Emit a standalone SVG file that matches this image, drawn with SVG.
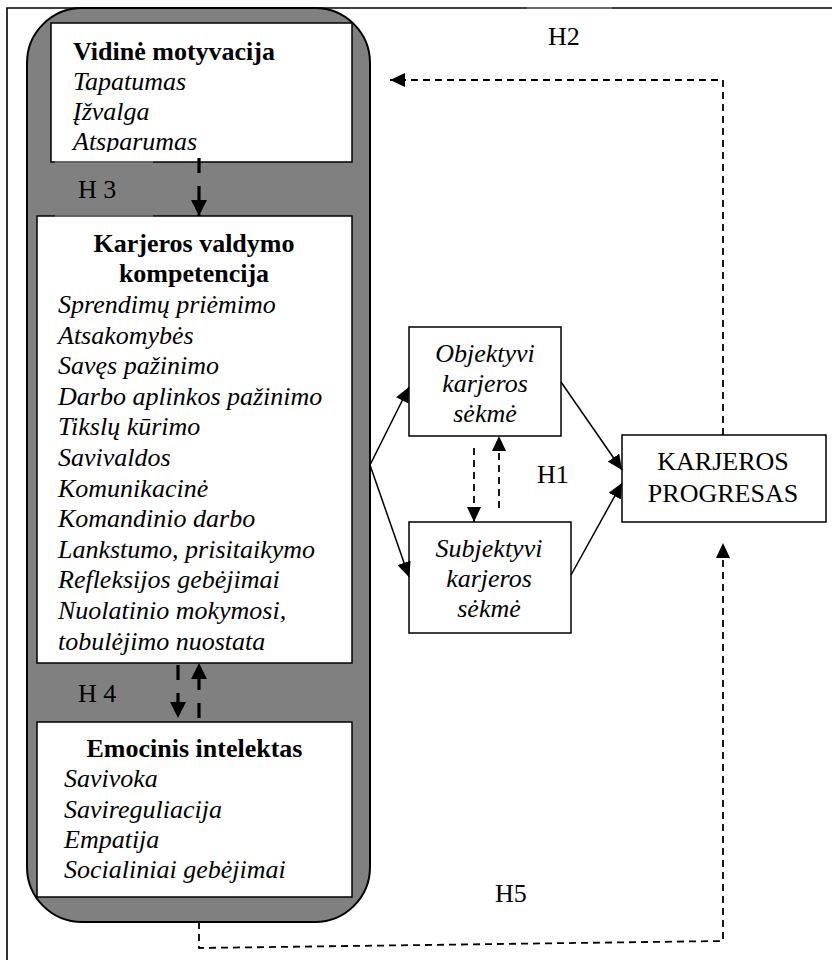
<svg xmlns="http://www.w3.org/2000/svg" width="832" height="960" viewBox="0 0 832 960">
<style>
text{font-family:"Liberation Serif","Times New Roman",serif;font-size:26px;fill:#000}
.b{font-weight:bold}
.i{font-style:italic}
.c{text-anchor:middle}
.box{fill:#fff;stroke:#000;stroke-width:1.5}
.solid{fill:none;stroke:#000;stroke-width:1.5}
.thin{fill:none;stroke:#000;stroke-width:1.8;stroke-dasharray:7 5}
.thick{fill:none;stroke:#000;stroke-width:3.2;stroke-dasharray:15 13}
.art{stroke:#777;stroke-width:1.6}
</style>
<defs>
<marker id="ah" markerUnits="userSpaceOnUse" markerWidth="16" markerHeight="14" refX="15" refY="7" orient="auto">
<path d="M0,0 L15,7 L0,14 Z" fill="#000"/>
</marker>
<marker id="ahb" markerUnits="userSpaceOnUse" markerWidth="17" markerHeight="16" refX="16" refY="8" orient="auto">
<path d="M0,0 L16,8 L0,16 Z" fill="#000"/>
</marker>
<clipPath id="clip1"><rect x="51" y="23" width="301" height="129"/></clipPath>
</defs>
<rect width="832" height="960" fill="#fff"/>
<g id="frame">
<path d="M7,960 L7,8 L832,8" fill="none" stroke="#000" stroke-width="1.6"/>
<line x1="527" y1="8" x2="612" y2="8" class="art"/>
</g>
<g id="container">
<rect x="27" y="8" width="343" height="914" rx="55" ry="55" fill="#808080" stroke="#000" stroke-width="2"/>
</g>
<g id="vidine">
<rect x="51" y="23" width="301" height="139" class="box"/>
<line x1="55" y1="162" x2="153" y2="162" class="art"/>
<g clip-path="url(#clip1)">
<text x="73" y="60" class="b">Vidinė motyvacija</text>
<text x="73" y="90" class="i">Tapatumas</text>
<text x="73" y="120" class="i">Įžvalga</text>
<text x="73" y="150" class="i">Atsparumas</text>
</g>
</g>
<g id="karjeros-valdymo">
<rect x="37" y="216" width="315" height="447" class="box"/>
<line x1="55" y1="216" x2="153" y2="216" class="art"/>
<text x="194" y="252" class="b c">Karjeros valdymo</text>
<text x="194" y="282" class="b c">kompetencija</text>
<text x="58" y="313" class="i">Sprendimų priėmimo</text>
<text x="58" y="343.6" class="i">Atsakomybės</text>
<text x="58" y="374.2" class="i">Savęs pažinimo</text>
<text x="58" y="404.8" class="i">Darbo aplinkos pažinimo</text>
<text x="58" y="435.4" class="i">Tikslų kūrimo</text>
<text x="58" y="466" class="i">Savivaldos</text>
<text x="58" y="496.6" class="i">Komunikacinė</text>
<text x="58" y="527.2" class="i">Komandinio darbo</text>
<text x="58" y="557.8" class="i">Lankstumo, prisitaikymo</text>
<text x="58" y="588.4" class="i">Refleksijos gebėjimai</text>
<text x="58" y="619" class="i">Nuolatinio mokymosi,</text>
<text x="58" y="649.6" class="i">tobulėjimo nuostata</text>
</g>
<g id="emocinis">
<rect x="37" y="722" width="315" height="175" class="box"/>
<text x="194.5" y="757" class="b c">Emocinis intelektas</text>
<text x="64" y="787" class="i">Savivoka</text>
<text x="64" y="817.5" class="i">Savireguliacija</text>
<text x="64" y="848" class="i">Empatija</text>
<text x="64" y="878" class="i">Socialiniai gebėjimai</text>
</g>
<g id="objektyvi">
<rect x="409" y="327" width="152" height="109" class="box"/>
<text x="485" y="362" class="i c">Objektyvi</text>
<text x="485" y="392" class="i c">karjeros</text>
<text x="485" y="422" class="i c">sėkmė</text>
</g>
<g id="subjektyvi">
<rect x="409" y="522" width="162" height="111" class="box"/>
<text x="489" y="557" class="i c">Subjektyvi</text>
<text x="489" y="587" class="i c">karjeros</text>
<text x="489" y="617" class="i c">sėkmė</text>
</g>
<g id="progresas">
<rect x="622" y="435" width="204" height="87" class="box"/>
<text x="723" y="470" class="c">KARJEROS</text>
<text x="723" y="502" class="c">PROGRESAS</text>
</g>
<g id="connectors">
<line x1="370" y1="465" x2="409" y2="387" class="solid" marker-end="url(#ah)"/>
<line x1="370" y1="465" x2="409" y2="577" class="solid" marker-end="url(#ah)"/>
<line x1="561" y1="382" x2="622" y2="470" class="solid" marker-end="url(#ah)"/>
<line x1="571" y1="575" x2="622" y2="483" class="solid" marker-end="url(#ah)"/>
<line x1="474" y1="448" x2="474" y2="522" class="thin" marker-end="url(#ah)"/>
<line x1="499" y1="508" x2="499" y2="436" class="thin" marker-end="url(#ah)"/>
<polyline points="723,435 723,80 390,80" class="thin" marker-end="url(#ah)"/>
<polyline points="199,922 199,948 723,941 723,543" class="thin" marker-end="url(#ah)"/>
<line x1="199" y1="158" x2="199" y2="216" class="thick" marker-end="url(#ahb)"/>
<line x1="178" y1="665" x2="178" y2="718" class="thick" marker-end="url(#ahb)"/>
<line x1="199" y1="718" x2="199" y2="663" class="thick" marker-end="url(#ahb)"/>
</g>
<g id="labels">
<text x="78" y="198">H 3</text>
<text x="78" y="702">H 4</text>
<text x="548" y="45">H2</text>
<text x="537" y="483">H1</text>
<text x="495" y="902">H5</text>
</g>
</svg>
